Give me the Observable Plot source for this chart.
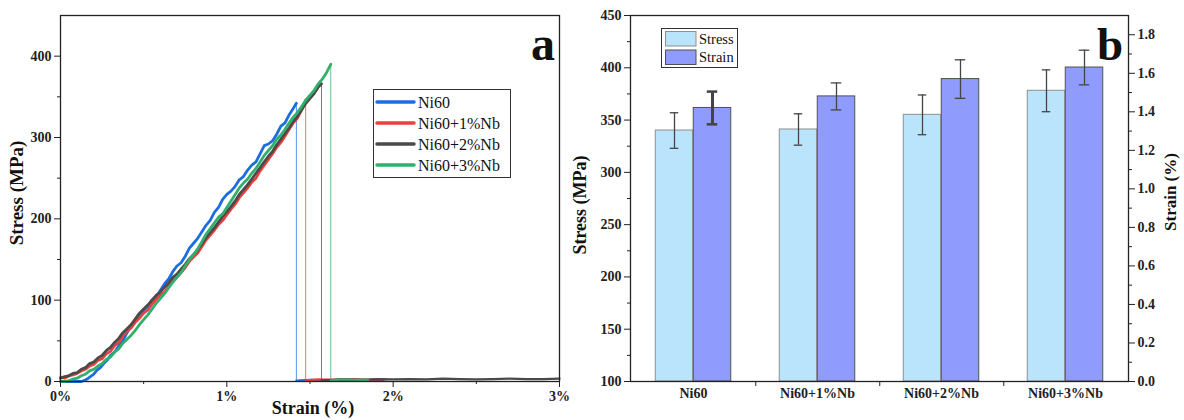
<!DOCTYPE html>
<html><head><meta charset="utf-8">
<script src="https://cdn.jsdelivr.net/npm/d3@7"></script>
<script src="https://cdn.jsdelivr.net/npm/@observablehq/plot@0.6"></script>
<style>
body{margin:0;background:#fff;}
#wrap{position:relative;width:1184px;height:420px;overflow:hidden;font-family:"Liberation Serif","Times New Roman",serif;}
#left,#right{position:absolute;top:0;}
#left{left:0}
#right{left:580px}
#overlay{position:absolute;left:0;top:0;pointer-events:none}
</style></head><body>
<div id="wrap"><div id="left"></div><div id="right"></div><svg id="overlay" width="1184" height="420"></svg></div>
<script>
// ---------- Panel a data ----------
const seriesNames = ["Ni60", "Ni60+1%Nb", "Ni60+2%Nb", "Ni60+3%Nb"];
const seriesColors = ["#1c6ee0", "#f03e3e", "#4a4a4a", "#30b06c"];

const ni60Strain = [0,0.025,0.05,0.075,0.1,0.125,0.14,0.16,0.18,0.2,0.22,0.24,0.26,0.28,0.3,0.325,0.35,0.375,0.4,0.425,0.45,0.475,0.5,0.525,0.55,0.575,0.6,0.625,0.65,0.675,0.7,0.725,0.75,0.775,0.8,0.825,0.85,0.875,0.9,0.925,0.95,0.975,1.0,1.025,1.05,1.075,1.1,1.125,1.15,1.175,1.2,1.225,1.25,1.275,1.3,1.325,1.35,1.375,1.4,1.418];
const ni60Stress = [0,0,0,0,0,0,1,3,6,9,14,17,22,26,32,36,44,50,60,68,76,80,88,93,100,104,112,120,126,135,142,146,154,164,170,176,184,192,198,208,214,224,230,234,240,248,252,260,266,270,280,290,292,296,304,314,318,328,336,342];
const nb1Strain = [0,0.025,0.05,0.075,0.1,0.125,0.15,0.175,0.2,0.225,0.25,0.275,0.3,0.325,0.35,0.375,0.4,0.425,0.45,0.475,0.5,0.525,0.55,0.575,0.6,0.625,0.65,0.675,0.7,0.725,0.75,0.775,0.8,0.825,0.85,0.875,0.9,0.925,0.95,0.975,1.0,1.025,1.05,1.075,1.1,1.125,1.15,1.175,1.2,1.225,1.25,1.275,1.3,1.325,1.35,1.375,1.4,1.425,1.45,1.474];
const nb1Stress = [5,4,7,8,10,13,15,19,21,26,28,34,37,44,48,56,62,66,73,78,84,88,95,101,106,110,117,124,128,134,140,148,153,158,166,174,180,186,193,198,205,212,218,226,232,238,245,250,259,266,273,280,288,294,302,310,318,324,334,346];
const nb2Strain = [0,0.025,0.05,0.075,0.1,0.125,0.15,0.175,0.2,0.225,0.25,0.275,0.3,0.325,0.35,0.375,0.4,0.425,0.45,0.475,0.5,0.525,0.55,0.575,0.6,0.625,0.65,0.675,0.7,0.725,0.75,0.775,0.8,0.825,0.85,0.875,0.9,0.925,0.95,0.975,1.0,1.025,1.05,1.075,1.1,1.125,1.15,1.175,1.2,1.225,1.25,1.275,1.3,1.325,1.35,1.375,1.4,1.425,1.45,1.475,1.5,1.525,1.55,1.569];
const nb2Stress = [4,6,7,10,11,15,17,22,24,29,32,38,42,48,53,60,65,70,77,84,89,94,100,106,110,116,121,128,132,138,144,151,156,162,169,177,183,189,196,203,209,215,222,230,236,242,249,256,263,270,277,283,291,298,305,312,320,326,334,342,348,354,362,366];
const nb3Strain = [0,0.025,0.05,0.075,0.1,0.125,0.15,0.175,0.2,0.225,0.25,0.275,0.3,0.325,0.35,0.375,0.4,0.425,0.45,0.475,0.5,0.525,0.55,0.575,0.6,0.625,0.65,0.675,0.7,0.725,0.75,0.775,0.8,0.825,0.85,0.875,0.9,0.925,0.95,0.975,1.0,1.025,1.05,1.075,1.1,1.125,1.15,1.175,1.2,1.225,1.25,1.275,1.3,1.325,1.35,1.375,1.4,1.425,1.45,1.475,1.5,1.525,1.55,1.575,1.6,1.625];
const nb3Stress = [0,0,1,3,4,7,9,13,15,19,22,27,30,36,40,47,52,57,63,70,76,82,89,96,102,108,115,122,128,134,142,150,156,163,172,181,188,195,202,206,214,222,230,238,244,249,256,262,270,278,284,290,298,303,310,318,325,331,338,346,352,358,366,372,380,390];

// after fracture (near-zero tails)
const ni60TailStrain = [1.418,1.5,1.6,1.7,1.8,1.9,1.94];
const ni60TailStress = [1,2,1.5,2.5,2,1.5,2];
const nb1TailStrain = [1.474,1.55,1.65,1.75,1.85,1.955];
const nb1TailStress = [1.5,2.5,2,3,2,2.5];
const nb2TailStrain = [1.569,1.7,1.8,1.9,2.0,2.1,2.2,2.3,2.4,2.5,2.6,2.7,2.8,2.9,3.0];
const nb2TailStress = [1.5,2.5,2,3,2.5,3,2.5,3.5,3,2.5,3,3.5,3,3,3.5];
const nb3TailStrain = [1.625,1.7,1.78,1.85];
const nb3TailStress = [1.5,2.5,2,2];

const xMajor = [0,1,2,3], xMinor = [0.5,1.5,2.5];
const yMajorA = [0,100,200,300,400], yMinorA = [50,150,250,350];

// ---------- Panel b data ----------
const categories = ["Ni60", "Ni60+1%Nb", "Ni60+2%Nb", "Ni60+3%Nb"];
const stressMean = [340, 341, 355, 378];
const stressErr = [17, 15, 19, 20];
const strainMean = [1.42, 1.48, 1.57, 1.63];
const strainErr = [0.085, 0.07, 0.10, 0.09];
const yMajorB = [100,150,200,250,300,350,400,450], yMinorB = [125,175,225,275,325,375,425];
const strainTicks = [0,0.2,0.4,0.6,0.8,1.0,1.2,1.4,1.6,1.8];
const strainMinor = [0.1,0.3,0.5,0.7,0.9,1.1,1.3,1.5,1.7];

// ---------- build panel a ----------
const curves = [[ni60Strain,ni60Stress],[nb1Strain,nb1Stress],[nb2Strain,nb2Stress],[nb3Strain,nb3Stress]];
const tails = [[ni60TailStrain,ni60TailStress],[nb1TailStrain,nb1TailStress],[nb2TailStrain,nb2TailStress],[nb3TailStrain,nb3TailStress]];
const curveRows = [], tailRows = [], breaks = [];
curves.forEach(([xs, ys], k) => {
  xs.forEach((x, i) => curveRows.push({series: seriesNames[k], strain: x, stress: ys[i]}));
  breaks.push({series: seriesNames[k], strain: xs[xs.length-1], stress: ys[ys.length-1]});
});
tails.forEach(([xs, ys], k) => xs.forEach((x, i) => tailRows.push({series: seriesNames[k], strain: x, stress: ys[i]})));

const FF = "'Liberation Serif','Times New Roman',serif";
const axisStyle = {fontFamily: FF, fontSize: "14px", fontWeight: "bold", color: "#222", background: "transparent"};
const tx = {fontFamily: FF, fontWeight: "bold", fontSize: 14};

const plotA = Plot.plot({
  width: 580, height: 420,
  marginLeft: 60, marginRight: 21, marginTop: 15, marginBottom: 39,
  x: {domain: [0, 3]},
  y: {domain: [0, 450]},
  color: {domain: seriesNames, range: seriesColors},
  style: axisStyle,
  marks: [
    Plot.ruleX(breaks, {x: "strain", y1: 0, y2: "stress", stroke: "series", strokeWidth: 1, strokeOpacity: 0.75}),
    Plot.line(tailRows, {x: "strain", y: "stress", z: "series", stroke: "series", strokeWidth: 2.2}),
    Plot.line(curveRows, {x: "strain", y: "stress", z: "series", stroke: "series", strokeWidth: 2.8, curve: "linear"}),
    Plot.frame({stroke: "#222", strokeWidth: 1.3}),
    Plot.axisY({...tx, ticks: yMajorA, tickSize: 6, tickPadding: 3, label: null}),
    Plot.axisY({ticks: yMinorA, tickSize: 3, tickFormat: () => "", label: null}),
    Plot.axisX({...tx, ticks: xMajor, tickSize: 6, tickPadding: 4, tickFormat: d => d + "%", label: null}),
    Plot.axisX({ticks: xMinor, tickSize: 3, tickFormat: () => "", label: null})
  ]
});
document.getElementById("left").appendChild(plotA);

// ---------- build panel b ----------
const toY = s => 100 + s * 350 / 1.9;
const fromY = v => (v - 100) * 1.9 / 350;
const barRows = categories.map((c, i) => ({
  cat: c,
  stress: stressMean[i], sLo: stressMean[i] - stressErr[i], sHi: stressMean[i] + stressErr[i],
  strainY: toY(strainMean[i]), eLo: toY(strainMean[i] - strainErr[i]), eHi: toY(strainMean[i] + strainErr[i])
}));
const bw = 498 / 4;
const capInset = (bw - 9) / 2;

const plotB = Plot.plot({
  width: 604, height: 420,
  marginLeft: 50, marginRight: 56, marginTop: 15, marginBottom: 39,
  x: {domain: categories, padding: 0},
  y: {domain: [100, 450]},
  style: axisStyle,
  marks: [
    Plot.barY(barRows, {x: "cat", y1: 100, y2: "stress", fill: "#bae4fc", stroke: "#8e8e8e", strokeWidth: 1, insetLeft: 24.25, insetRight: 62.25}),
    Plot.barY(barRows, {x: "cat", y1: 100, y2: "strainY", fill: "#8f9bfd", stroke: "#505050", strokeWidth: 1, insetLeft: 62.25, insetRight: 24.25}),
    Plot.ruleX(barRows, {x: "cat", y1: "sLo", y2: "sHi", dx: -19, stroke: "#444", strokeWidth: 1.3}),
    Plot.tickY(barRows, {x: "cat", y: "sLo", dx: -19, insetLeft: capInset, insetRight: capInset, stroke: "#444", strokeWidth: 1.3}),
    Plot.tickY(barRows, {x: "cat", y: "sHi", dx: -19, insetLeft: capInset, insetRight: capInset, stroke: "#444", strokeWidth: 1.3}),
    Plot.ruleX(barRows, {x: "cat", y1: "eLo", y2: "eHi", dx: 19, stroke: "#444", strokeWidth: d => d.cat === "Ni60" ? 3 : 1.3}),
    Plot.tickY(barRows, {x: "cat", y: "eLo", dx: 19, insetLeft: capInset - 1, insetRight: capInset - 1, stroke: "#444", strokeWidth: d => d.cat === "Ni60" ? 2.5 : 1.3}),
    Plot.tickY(barRows, {x: "cat", y: "eHi", dx: 19, insetLeft: capInset - 1, insetRight: capInset - 1, stroke: "#444", strokeWidth: d => d.cat === "Ni60" ? 2.5 : 1.3}),
    Plot.frame({stroke: "#222", strokeWidth: 1.3}),
    Plot.axisY({...tx, ticks: yMajorB, tickSize: 6, tickPadding: 3, label: null}),
    Plot.axisY({ticks: yMinorB, tickSize: 3, tickFormat: () => "", label: null}),
    Plot.axisY({...tx, anchor: "right", ticks: strainTicks.map(toY), tickSize: 6, tickPadding: 3, tickFormat: v => fromY(v).toFixed(1), label: null}),
    Plot.axisY({anchor: "right", ticks: strainMinor.map(toY), tickSize: 3, tickFormat: () => "", label: null}),
    Plot.axisX({...tx, ticks: categories, tickSize: 0, tickPadding: 7, label: null}),
    Plot.axisX({ticks: categories.slice(0, 3), dx: bw / 2, tickSize: 5, tickFormat: () => "", label: null})
  ]
});
document.getElementById("right").appendChild(plotB);

// ---------- overlay: titles, panel letters, legends ----------
const ov = d3.select("#overlay");
function txt(x, y, s, opts = {}) {
  const t = ov.append("text").attr("x", x).attr("y", y).text(s)
    .attr("font-family", FF).attr("fill", "#111")
    .attr("font-size", opts.size || 14).attr("font-weight", opts.weight || "normal")
    .attr("text-anchor", opts.anchor || "start");
  if (opts.rotate) t.attr("transform", `rotate(-90,${x},${y})`);
  return t;
}
txt(23, 193, "Stress (MPa)", {size: 19, weight: "bold", anchor: "middle", rotate: true});
txt(313, 414, "Strain (%)", {size: 18, weight: "bold", anchor: "middle"});
txt(586, 205, "Stress (MPa)", {size: 18, weight: "bold", anchor: "middle", rotate: true});
txt(1176, 192, "Strain (%)", {size: 17, weight: "bold", anchor: "middle", rotate: true});
txt(531, 60, "a", {size: 48, weight: "bold"});
txt(1097, 60, "b", {size: 47, weight: "bold"});

// legend a
ov.append("rect").attr("x", 373.5).attr("y", 89.5).attr("width", 137).attr("height", 88)
  .attr("fill", "#fff").attr("stroke", "#333").attr("stroke-width", 1);
seriesNames.forEach((n, i) => {
  const y = 102 + i * 21;
  ov.append("line").attr("x1", 377).attr("x2", 414).attr("y1", y).attr("y2", y)
    .attr("stroke", seriesColors[i]).attr("stroke-width", 3.5).attr("stroke-linecap", "round");
  txt(418, y + 5.5, n, {size: 16});
});

// legend b
const legB = [["Stress", "#bae4fc", "#8e8e8e"], ["Strain", "#8f9bfd", "#505050"]];
ov.append("rect").attr("x", 661.5).attr("y", 28.5).attr("width", 76).attr("height", 39)
  .attr("fill", "#fff").attr("stroke", "#333").attr("stroke-width", 1);
legB.forEach(([n, f, s], i) => {
  const y = 31.5 + i * 18.5;
  ov.append("rect").attr("x", 665.5).attr("y", y).attr("width", 30.5).attr("height", 14.5)
    .attr("fill", f).attr("stroke", s).attr("stroke-width", 1);
  txt(699, y + 12, n, {size: 14.5});
});
</script>
</body></html>
